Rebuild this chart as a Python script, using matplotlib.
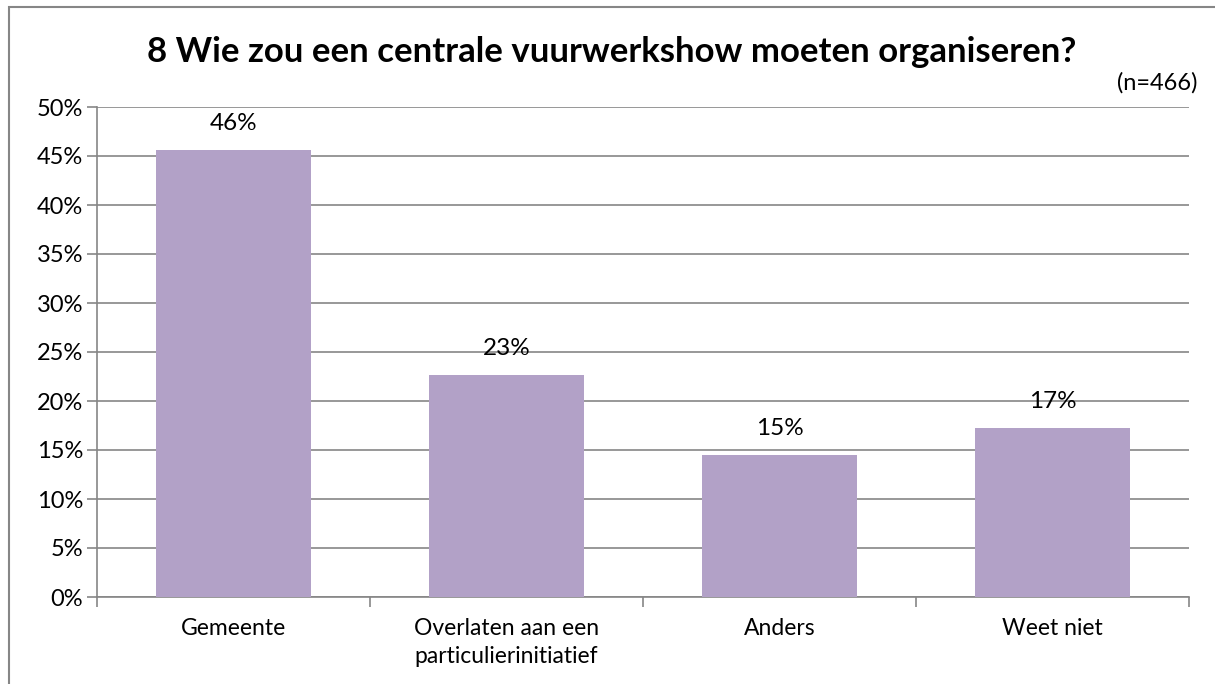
import matplotlib.pyplot as plt
from matplotlib.patches import Rectangle

categories = ["Gemeente", "Overlaten aan een\nparticulierinitiatief", "Anders", "Weet niet"]
values = [45.6, 22.7, 14.5, 17.2]
labels = ["46%", "23%", "15%", "17%"]
yticks = [0, 5, 10, 15, 20, 25, 30, 35, 40, 45, 50]

plt.rcParams['font.family'] = ['Lato', 'DejaVu Sans']

W, H = 1215, 684
fig = plt.figure(figsize=(W / 100, H / 100), dpi=100)
fig.patch.set_facecolor('white')

# outer border
fig.patches.append(Rectangle((9 / W, -0.05), 1.2, 1 - 7 / H + 0.05, transform=fig.transFigure,
                             fill=False, edgecolor='#868686', linewidth=1.5))

ax = fig.add_axes([97 / W, (H - 597) / H, (1189 - 97) / W, (597 - 107) / H])
x = range(len(categories))
ax.bar(x, values, width=0.57, color='#b2a1c7', zorder=3)
ax.set_xlim(-0.5, len(categories) - 0.5)
ax.set_ylim(0, 50)
ax.set_yticks(yticks)
ax.set_yticklabels([f"{t}%" for t in yticks], fontsize=17)
ax.yaxis.grid(True, color='#868686', linewidth=1.2, zorder=0)
ax.set_axisbelow(True)
for s in ['top', 'right']:
    ax.spines[s].set_visible(False)
for s in ['left', 'bottom']:
    ax.spines[s].set_color('#868686')
    ax.spines[s].set_linewidth(1.2)
ax.tick_params(axis='y', length=7, color='#868686', width=1.2, pad=3)
ax.set_xticks([i - 0.5 for i in range(len(categories) + 1)])
ax.set_xticklabels([])
ax.tick_params(axis='x', length=7, color='#868686', width=1.2)
for i, c in enumerate(categories):
    ax.text(i, -2.1, c, ha='center', va='top', fontsize=16.5, linespacing=1.45)
for i, (v, l) in enumerate(zip(values, labels)):
    ax.text(i, v + 2.7, l, ha='center', va='center', fontsize=17.5)

fig.text(0.5 * (9 + 1215) / W, 1 - 52 / H, "8 Wie zou een centrale vuurwerkshow moeten organiseren?",
         ha='center', va='center', fontsize=25, fontweight='bold')
fig.text(1198 / W, 1 - 83 / H, "(n=466)", ha='right', va='center', fontsize=17)

fig.savefig("out.png", dpi=100)
